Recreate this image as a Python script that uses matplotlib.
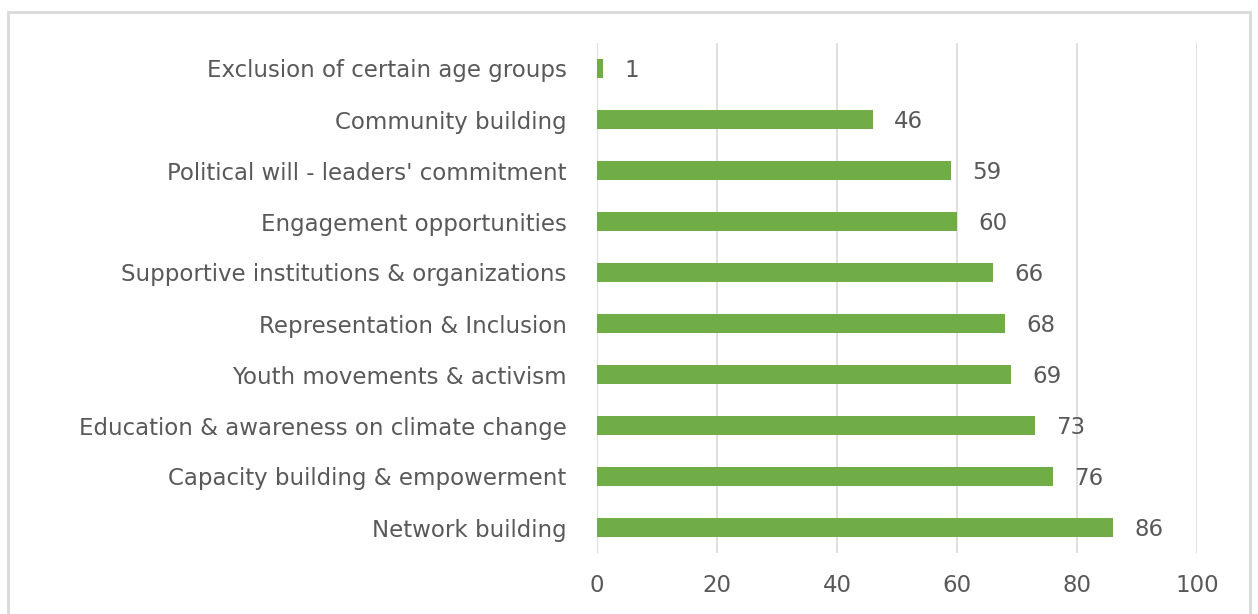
import matplotlib.pyplot as plt
from matplotlib.patches import Rectangle

# categories bottom to top
categories = [
    "Network building",
    "Capacity building & empowerment",
    "Education & awareness on climate change",
    "Youth movements & activism",
    "Representation & Inclusion",
    "Supportive institutions & organizations",
    "Engagement opportunities",
    "Political will - leaders' commitment",
    "Community building",
    "Exclusion of certain age groups",
]
values = [86, 76, 73, 69, 68, 66, 60, 59, 46, 1]
xticks = [0, 20, 40, 60, 80, 100]

plt.rcParams['font.family'] = ['DejaVu Sans']
text_color = "#595959"

fig = plt.figure(figsize=(12.58, 6.14), dpi=100)
ax = fig.add_axes([597 / 1258, (614 - 553) / 614, 600 / 1258, 510 / 614])

pos = list(range(len(categories)))
ax.barh(pos, values, height=0.36, color="#70AD47", zorder=3)

for p, v in zip(pos, values):
    ax.text(v + 3.5, p - 0.03, str(v), va="center", ha="left", fontsize=16.5, color=text_color)

ax.set_xlim(0, 100)
ax.set_ylim(-0.5, len(categories) - 0.5)
ax.set_xticks(xticks)
ax.set_xticklabels([str(t) for t in xticks])
ax.set_yticks(pos)
ax.set_yticklabels(categories)
ax.grid(axis="x", color="#D9D9D9", linewidth=1.2, zorder=0)
for s in ax.spines.values():
    s.set_visible(False)
ax.tick_params(axis="both", length=0, labelcolor=text_color)
ax.tick_params(axis="y", pad=22, labelsize=16.5)
ax.tick_params(axis="x", pad=15, labelsize=16.5)

# chart border
fig.patches.append(Rectangle((8 / 1258, -0.05), 1242 / 1258, 1.05 - 12 / 614,
                             transform=fig.transFigure, fill=False,
                             edgecolor="#D9D9D9", linewidth=2))

fig.savefig("out.png", dpi=100)
